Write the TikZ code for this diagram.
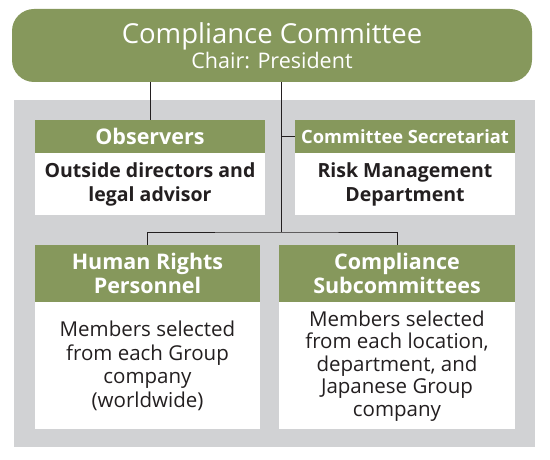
\documentclass[tikz,border=0pt]{standalone}
\usepackage{fontspec}
\setmainfont{Open Sans}
\definecolor{olive}{RGB}{134,152,92}
\definecolor{panel}{RGB}{209,210,212}
\definecolor{ink}{RGB}{35,31,32}
\tikzset{
  hdr/.style={fill=olive, text=white, inner sep=0pt, align=center, font=\bfseries\fontsize{21.5}{23.5}\selectfont},
  bodybox/.style={fill=white, text=ink, inner sep=0pt, align=center},
  conn/.style={draw=ink, line width=0.9pt},
}
\begin{document}
\begin{tikzpicture}[x=1pt,y=1pt]
\useasboundingbox (0,0) rectangle (550,460);
% gray panel
\node[fill=panel, minimum width=521pt, minimum height=347pt, inner sep=0pt] (panel) at (274.5,186.5) {};
% top box
\node[fill=olive, rounded corners=22pt, minimum width=520pt, minimum height=73pt, inner sep=0pt, text=white, align=center, font=\fontsize{21.5}{25}\selectfont] (top) at (272,414.5)
  {{\fontsize{27.5}{25}\selectfont Compliance Committee}\\{\fontsize{21.5}{25}\selectfont Chair: President}};
% Observers
\node[hdr, minimum width=230pt, minimum height=33pt] (obsH) at (150,323.5) {Observers};
\node[bodybox, minimum width=230pt, minimum height=62pt, font=\bfseries\fontsize{19.5}{24.5}\selectfont, anchor=north] (obsB) at (obsH.south) {Outside directors and\\legal advisor};
% Secretariat
\node[hdr, minimum width=220pt, minimum height=33pt, font=\bfseries\fontsize{18.3}{21}\selectfont] (secH) at (405,323.5) {Committee Secretariat};
\node[bodybox, minimum width=220pt, minimum height=62pt, font=\bfseries\fontsize{19.5}{24.5}\selectfont, anchor=north] (secB) at (secH.south) {Risk Management\\Department};
% Human Rights
\node[hdr, minimum width=225pt, minimum height=57pt] (hrH) at (147.5,186.5) {Human Rights\\Personnel};
\node[bodybox, minimum width=225pt, minimum height=127pt, font=\fontsize{20.5}{23.5}\selectfont, anchor=north] (hrB) at (hrH.south) {Members selected\\from each Group\\company\\(worldwide)};
% Subcommittees
\node[hdr, minimum width=236pt, minimum height=57pt] (subH) at (397,186.5) {Compliance\\Subcommittees};
\node[bodybox, minimum width=236pt, minimum height=127pt, font=\fontsize{20.5}{22.5}\selectfont, anchor=north] (subB) at (subH.south) {Members selected\\from each location,\\department, and\\Japanese Group\\company};
% connectors
\coordinate (trunkTop) at (281,378);
\coordinate (split) at (281,228);
\coordinate (secJ) at (281,323.5);
\draw[conn] (obsH.north |- top.south) -- (obsH.north);
\draw[conn] (trunkTop) -- (split);
\draw[conn] (secJ) -- (secH.west);
\draw[conn] (hrH.north) |- (split) -| (subH.north);
\end{tikzpicture}
\end{document}
